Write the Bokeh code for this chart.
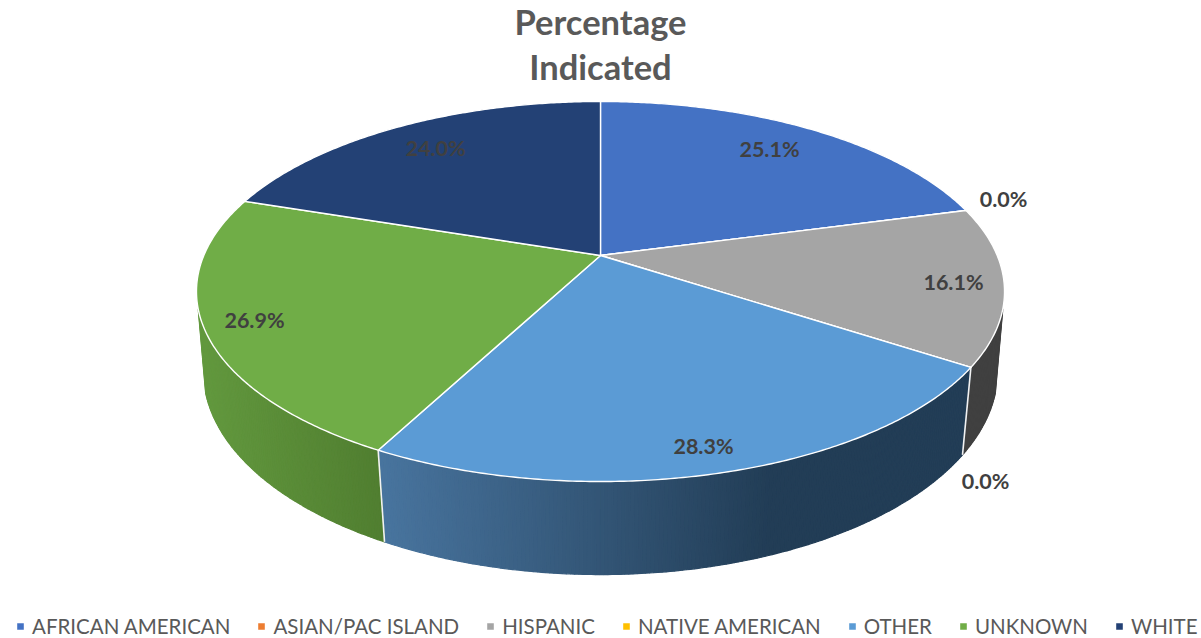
import math
from bokeh.plotting import figure
from bokeh.models import Range1d, Legend, LegendItem, ColumnDataSource
from bokeh.core.properties import value
from bokeh.embed import file_html
from bokeh.resources import INLINE

title_lines = ["Percentage", "Indicated"]
categories = ["AFRICAN AMERICAN", "ASIAN/PAC ISLAND", "HISPANIC", "NATIVE AMERICAN", "OTHER", "UNKNOWN", "WHITE"]
percent = [25.1, 0.0, 16.1, 0.0, 28.3, 26.9, 24.0]
colors = ["#4472C4", "#ED7D31", "#A5A5A5", "#FFC000", "#5B9BD5", "#70AD47", "#234175"]

label_x = [769, 1003, 953, 985, 703, 254, 435]
label_y = [148, 198, 281, 480, 445, 319, 147]

W, H = 1201, 638
# perspective model of the tilted disc (top face and bottom face)
TOP = dict(cy=255.0, k=396.7, m=183.2, a=0.1895)
BOT = dict(cy=335.0, k=390.9, m=197.0, a=0.176)
SIDE_START, SIDE_END = 106.0, 254.0


def proj(theta, f):
    t = math.radians(theta)
    x, y = math.sin(t), math.cos(t)
    d = 1 + f["a"] * y
    return 600 + f["k"] * x / d, f["cy"] - f["m"] * y / d


def arc(t0, t1, f, step=0.5):
    n = max(1, int(abs(t1 - t0) / step))
    return [proj(t0 + (t1 - t0) * i / n, f) for i in range(n + 1)]


def lerp_hex(c0, c1, u):
    u = max(0.0, min(1.0, u))
    return "#%02x%02x%02x" % tuple(round(a + (b - a) * u) for a, b in zip(c0, c1))


total = sum(percent)
edges = [0.0]
for v in percent:
    edges.append(edges[-1] + v / total * 360.0)

p = figure(width=W, height=H, output_backend="svg", toolbar_location=None,
           x_range=Range1d(0, W), y_range=Range1d(H, 0),
           min_border=0, outline_line_color=None)
p.axis.visible = False
p.grid.visible = False
p.background_fill_color = "white"
p.border_fill_color = "white"

# side wall: shaded strips
side_styles = {
    2: ((64, 64, 64), (64, 64, 64), 960, 1003),
    4: ((72, 116, 158), (34, 61, 86), 385, 770),
    5: ((98, 152, 62), (80, 126, 48), 205, 384),
}
sx, sy, sc = [], [], []
for i, (lft, rgt, x0, x1) in side_styles.items():
    t0, t1 = max(edges[i], SIDE_START), min(edges[i + 1], SIDE_END)
    n = max(1, int(t1 - t0) * 2)
    for j in range(n):
        a = t0 + (t1 - t0) * j / n
        b = t0 + (t1 - t0) * (j + 1) / n
        pts = [proj(a, TOP), proj(b, TOP), proj(b, BOT), proj(a, BOT)]
        sx.append([q[0] for q in pts])
        sy.append([q[1] for q in pts])
        xm = (pts[0][0] + pts[3][0]) / 2
        sc.append(lerp_hex(lft, rgt, (xm - x0) / (x1 - x0)))
p.patches(sx, sy, fill_color=sc, line_color=sc, line_width=1.2)

# white separators on the wall
for e in (edges[3], edges[5]):
    a, b = proj(e, TOP), proj(e, BOT)
    p.line([a[0], b[0]], [a[1], b[1]], line_color="#f2f2f2", line_width=1.6)

# top face
items = []
for i, cat in enumerate(categories):
    pts = [proj(0, dict(TOP, k=0, m=0))] + arc(edges[i], edges[i + 1], TOP)
    r = p.patches([[q[0] for q in pts]], [[q[1] for q in pts]],
                  fill_color=colors[i], line_color="white", line_width=1.4, line_join="round")
    items.append(LegendItem(label=cat, renderers=[r]))

# data labels
src = ColumnDataSource(dict(x=label_x, y=label_y, t=["%.1f%%" % v for v in percent]))
p.text("x", "y", text="t", source=src, text_font=value("Lato"), text_font_style="bold",
       text_font_size="21.5px", text_color="#404040", text_align="center", text_baseline="middle")

# title
p.text([600, 600], [21, 66], text=title_lines, text_font=value("Lato"), text_font_style="bold",
       text_font_size="34.5px", text_color="#595959", text_align="center", text_baseline="middle")

legend = Legend(items=items, orientation="horizontal", location=(15, 0),
                background_fill_alpha=0, border_line_color=None,
                padding=0, margin=0, spacing=26, label_standoff=7,
                glyph_width=10, glyph_height=10,
                label_text_font="Lato", label_text_font_size="20.5px",
                label_text_color="#595959", label_height=20)
p.add_layout(legend, "center")

open("out.html", "w").write(file_html(p, INLINE))
